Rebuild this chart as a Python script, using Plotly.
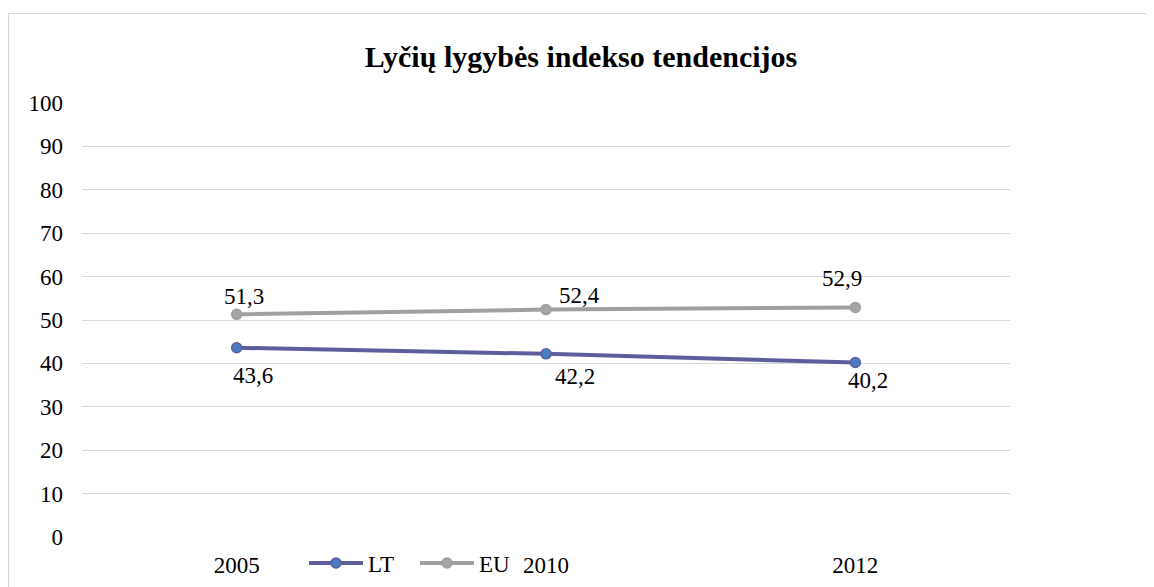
import plotly.graph_objects as go

years = ["2005", "2010", "2012"]
lt_values = [43.6, 42.2, 40.2]
eu_values = [51.3, 52.4, 52.9]
lt_labels = ["43,6", "42,2", "40,2"]
eu_labels = ["51,3", "52,4", "52,9"]
y_ticks = [0, 10, 20, 30, 40, 50, 60, 70, 80, 90, 100]

FONT = "Liberation Serif"

# page has an 8px body margin, so the figure is drawn at 1146x579
W, H = 1146, 579
L, R, T, B = 74, 144, 95, 50
pw = W - L - R
ph = H - T - B

fig = go.Figure()
fig.add_trace(go.Scatter(
    x=years, y=lt_values, name="LT", mode="lines+markers",
    line=dict(color="#5E5E9C", width=4),
    marker=dict(size=10, color="#4A7CC4", line=dict(color="#5E5E9C", width=1.5)),
))
fig.add_trace(go.Scatter(
    x=years, y=eu_values, name="EU", mode="lines+markers",
    line=dict(color="#A0A0A0", width=4),
    marker=dict(size=10, color="#A5A5A5", line=dict(color="#A0A0A0", width=1.5)),
))

# data labels (offsets as placed in the original)
lt_off = [(16, -28), (29, -23), (13, -18)]
eu_off = [(7, 18), (33, 14), (-13, 29)]
for i, (v, t) in enumerate(zip(lt_values, lt_labels)):
    fig.add_annotation(x=i, y=v, text=t, showarrow=False,
                       xshift=lt_off[i][0], yshift=lt_off[i][1],
                       font=dict(family=FONT, size=23, color="#000"))
for i, (v, t) in enumerate(zip(eu_values, eu_labels)):
    fig.add_annotation(x=i, y=v, text=t, showarrow=False,
                       xshift=eu_off[i][0], yshift=eu_off[i][1],
                       font=dict(family=FONT, size=23, color="#000"))

# outer chart border
fig.add_shape(type="rect", xref="paper", yref="paper",
              x0=(0.5 - L) / pw, x1=(W + 5 - L) / pw,
              y0=-(B + 20) / ph, y1=(ph + T - 5.5) / ph,
              line=dict(color="#D9D9D9", width=1.2), fillcolor="rgba(0,0,0,0)")

fig.update_layout(
    width=W, height=H,
    margin=dict(l=L, r=R, t=T, b=B, autoexpand=False),
    paper_bgcolor="white", plot_bgcolor="white",
    title=dict(text="<b>Lyčių lygybės indekso tendencijos</b>", x=0.5, xref="container",
               xanchor="center", y=1 - 48 / H, yanchor="middle",
               font=dict(family=FONT, size=30, color="#000")),
    xaxis=dict(type="category", range=[-0.5, 2.5], showgrid=False, zeroline=False,
               showline=False, ticks="", automargin=False,
               tickfont=dict(family=FONT, size=23, color="#000"), ticklabelstandoff=12),
    yaxis=dict(range=[0, 100], tickvals=y_ticks, showgrid=True, gridcolor="#D9D9D9",
               gridwidth=1, zeroline=False, showline=False, ticks="", automargin=False,
               tickfont=dict(family=FONT, size=23, color="#000"), ticklabelstandoff=18),
    legend=dict(orientation="h", x=(304 - 8 - L) / pw, xanchor="left",
                y=-(563 - 8 - (H - B)) / ph, yanchor="middle",
                font=dict(family=FONT, size=23, color="#000"),
                bgcolor="rgba(0,0,0,0)", itemwidth=54,
                entrywidth=42, entrywidthmode="pixels", tracegroupgap=0),
    showlegend=True,
)

fig.write_html("out.html")
